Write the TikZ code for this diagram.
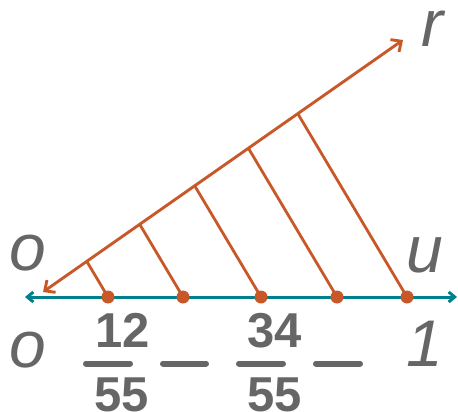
\documentclass[tikz,border=0pt]{standalone}
\usepackage{fontspec}
\setmainfont{Liberation Sans}
\usetikzlibrary{arrows.meta}
\definecolor{teal1}{RGB}{0,128,140}
\definecolor{orng}{RGB}{200,88,40}
\definecolor{gry}{RGB}{102,102,102}
\begin{document}
\begin{tikzpicture}[x=1pt,y=-1pt,
  axis/.style={draw=teal1,line width=3pt,{Straight Barb[length=6pt,width=10pt]}-{Straight Barb[length=6pt,width=10pt]}},
  ray/.style={draw=orng,line width=2.9pt},
  par/.style={draw=orng,line width=2.8pt},
  dot/.style={circle,fill=orng,inner sep=0pt,minimum size=13pt},
  lbl/.style={text=gry,inner sep=0pt,font=\fontsize{66}{66}\selectfont\itshape},
  num/.style={text=gry,inner sep=0pt,font=\fontsize{49}{49}\selectfont\bfseries},
  bar/.style={draw=gry,line width=6pt,line cap=round}]
\useasboundingbox (0,0) rectangle (458,412);
\clip (0,0) rectangle (458,412);
% axis
\coordinate (L) at (25,297);
\coordinate (Rt) at (457,297);
\draw[axis] (L) -- (Rt);
% ray
\coordinate (O) at (43,292);
\coordinate (R) at (403,40);
\draw[ray,{Straight Barb[length=8pt,width=15pt]}-{Straight Barb[length=8pt,width=15pt]}] (O) -- (R);
% points
\coordinate (p1) at (108,297); \coordinate (q1) at (86.8,261.4);
\coordinate (p2) at (183,297); \coordinate (q2) at (139.7,224.3);
\coordinate (p3) at (261,297); \coordinate (q3) at (194.7,185.8);
\coordinate (p4) at (337,297); \coordinate (q4) at (248.4,148.2);
\coordinate (p5) at (407,297); \coordinate (q5) at (297.8,113.7);
\foreach \i in {1,...,5}{
  \draw[par] (p\i) -- (q\i);
}
\foreach \i in {1,...,5}{
  \node[dot] (d\i) at (p\i) {};
}
% labels
\node[lbl] (lo) at (28,253) {o};
\node[lbl] (lu) at (425,255) {u};
\node[lbl] (lr) at (432,29) {r};
\node[lbl] (bo) at (28,350) {o};
\node[lbl] (b1) at (425,344) {1};
\node[num] (n1) at (123,330.5) {12};
\node[num] (m1) at (122,394.5) {55};
\node[num] (n2) at (275,330.5) {34};
\node[num] (m2) at (275,394.5) {55};
\coordinate (f1a) at (86,363.5); \coordinate (f1b) at (130,363.5);
\coordinate (g1a) at (163,363.5); \coordinate (g1b) at (206,363.5);
\coordinate (f2a) at (239,363.5); \coordinate (f2b) at (283,363.5);
\coordinate (g2a) at (316,363.5); \coordinate (g2b) at (360,363.5);
\draw[bar] (f1a) -- (f1b);
\draw[bar] (g1a) -- (g1b);
\draw[bar] (f2a) -- (f2b);
\draw[bar] (g2a) -- (g2b);
\end{tikzpicture}
\end{document}
